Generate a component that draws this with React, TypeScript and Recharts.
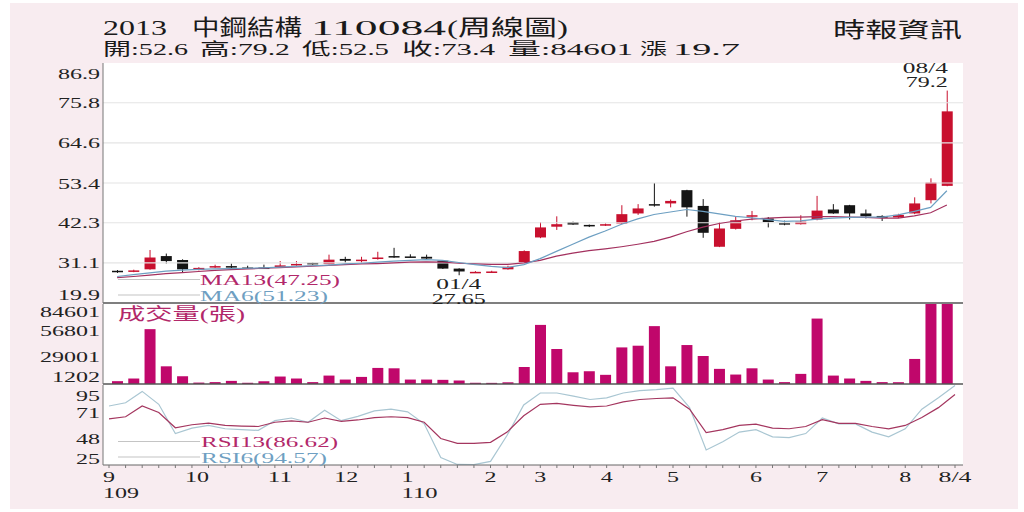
import React from "react";
import {
  Bar,
  BarChart,
  ComposedChart,
  Line,
  LineChart,
  ReferenceDot,
  ReferenceLine,
  XAxis,
  YAxis,
} from "recharts";

// weekly bars, 109/09 .. 110/08/04
const opens = [
  28.9, 28.6, 29.3, 33.0, 31.9, 29.1, 29.8, 30.2, 29.8, 29.8, 29.9, 30.6, 31.1,
  30.8, 32.2, 31.8, 32.2, 33.0, 32.9, 32.8, 31.7, 29.5, 28.5, 28.5, 29.3, 31.3,
  38.2, 41.2, 42.5, 41.7, 41.5, 42.1, 44.9, 47.5, 47.7, 51.4, 47.0, 35.6, 40.6,
  44.2, 43.5, 42.2, 41.9, 43.2, 46.0, 47.2, 44.9, 44.2, 43.8, 44.9, 48.6, 52.6,
];
const closes = [
  28.5, 29.0, 32.6, 31.6, 29.3, 29.7, 30.2, 30.0, 29.7, 29.7, 30.4, 30.8, 30.7,
  32.0, 31.7, 32.0, 32.6, 32.8, 32.8, 32.3, 29.5, 28.7, 28.6, 28.7, 30.0, 34.4,
  41.0, 41.9, 41.8, 41.5, 41.9, 44.7, 46.3, 47.2, 48.4, 46.6, 39.5, 40.7, 43.0,
  44.4, 42.5, 42.0, 42.6, 45.7, 44.9, 44.9, 44.1, 43.7, 44.5, 47.7, 53.5, 73.4,
];
const highs = [
  29.1, 29.2, 34.7, 33.7, 32.1, 29.9, 30.6, 30.9, 30.3, 30.6, 31.6, 31.6, 31.2,
  33.4, 32.8, 32.8, 34.2, 35.3, 33.5, 33.4, 31.8, 29.6, 28.8, 28.9, 30.3, 34.6,
  42.5, 44.1, 42.6, 41.8, 42.1, 47.2, 47.5, 53.4, 48.8, 51.5, 48.9, 42.5, 44.0,
  45.6, 43.9, 42.9, 44.4, 49.8, 47.5, 47.3, 46.0, 44.4, 44.8, 49.4, 54.7, 79.2,
];
const lows = [
  28.3, 28.5, 29.2, 30.9, 28.5, 29.0, 29.7, 29.5, 29.4, 29.4, 29.8, 30.3, 30.6,
  30.7, 31.1, 30.9, 32.0, 32.5, 32.6, 32.2, 29.4, 27.65, 28.3, 28.4, 29.2, 31.1,
  38.0, 40.3, 41.7, 41.1, 41.4, 41.9, 44.5, 46.8, 46.6, 44.0, 38.1, 35.5, 40.4,
  43.0, 41.0, 41.6, 41.8, 43.0, 44.8, 43.2, 43.5, 42.8, 43.6, 44.7, 47.7, 52.5,
];
const ma13 = [
  27.0, 27.3, 27.7, 28.1, 28.4, 28.7, 29.0, 29.2, 29.4, 29.6, 29.8, 30.0, 30.2,
  30.4, 30.6, 30.8, 30.9, 31.1, 31.3, 31.4, 31.3, 31.0, 30.8, 30.7, 30.7, 31.1,
  31.8, 33.0, 33.8, 34.5, 35.0, 35.6, 36.3, 37.1, 38.3, 39.8, 41.1, 42.1, 42.8,
  43.3, 43.6, 43.8, 43.9, 44.0, 44.0, 43.9, 43.8, 43.6, 43.6, 44.2, 45.1, 47.25,
];
const ma6 = [
  27.3, 27.8, 28.3, 28.8, 29.1, 29.3, 29.4, 29.5, 29.6, 29.7, 29.9, 30.1, 30.3,
  30.5, 30.8, 31.0, 31.3, 31.6, 31.8, 32.0, 31.8, 31.2, 30.6, 30.1, 29.8, 30.6,
  32.3, 34.3, 36.3, 38.3, 40.0, 41.9, 43.4, 44.6, 45.3, 46.0, 45.5, 44.8, 44.1,
  43.7, 43.2, 42.7, 42.8, 43.3, 43.6, 43.8, 43.9, 43.9, 44.5, 45.5, 46.6, 51.23,
];
const volumes = [
  3000, 5800, 58000, 18700, 8200, 1500, 2000, 3300, 1300, 2900, 7900, 5800, 2000,
  8900, 4700, 7500, 17000, 16600, 4700, 4700, 4400, 3700, 1300, 1202, 1800, 18000,
  62500, 37000, 12400, 13500, 9700, 38700, 40500, 61200, 18700, 41200, 29600,
  16000, 10000, 16600, 4700, 2000, 10700, 69200, 8900, 5800, 3300, 2000, 1900,
  26500, 92000, 84601,
];
const rsi13 = [
  65.3, 67.2, 76.6, 70.9, 57.6, 60.2, 61.6, 59.6, 59.0, 58.7, 62.4, 63.6, 62.4,
  66.1, 63.2, 64.4, 66.4, 67.2, 66.4, 62.4, 48.2, 43.9, 43.9, 44.8, 53.8, 68.1,
  78.1, 78.9, 77.2, 75.8, 76.6, 80.3, 82.3, 83.2, 83.8, 73.8, 53.3, 55.9, 59.6,
  60.7, 57.3, 56.7, 58.7, 64.7, 61.5, 61.5, 58.7, 56.7, 59.6, 66.6, 75.2, 86.62,
];
const rsi6 = [
  76.6, 79.5, 89.4, 78.1, 52.5, 57.3, 59.6, 56.7, 55.9, 55.3, 63.8, 66.1, 62.4,
  73.0, 63.8, 67.5, 72.4, 73.8, 71.5, 61.0, 31.6, 25.5, 25.3, 28.2, 51.0, 77.5,
  88.0, 88.0, 85.2, 82.3, 83.8, 88.0, 90.0, 90.9, 92.3, 75.2, 38.2, 45.3, 53.8,
  55.9, 49.6, 49.0, 52.5, 66.1, 61.0, 61.0, 53.8, 49.6, 56.7, 73.8, 83.8, 94.57,
];

const priceTicks = [19.9, 31.1, 42.3, 53.4, 64.6, 75.8, 86.9];
const volTicks = [1202, 29001, 56801, 84601];
const rsiTicks = [25, 48, 71, 95];
const monthIdx = [0, 5, 10, 14, 18, 23, 26, 30, 34, 39, 43, 48, 51];
const monthText = ["9", "10", "11", "12", "1", "2", "3", "4", "5", "6", "7", "8", "8/4"];
const yearText: Record<number, string> = { 0: "109", 18: "110" };

const rows = opens.map((o, i) => ({
  i,
  open: o,
  close: closes[i],
  high: highs[i],
  low: lows[i],
  ma13: ma13[i],
  ma6: ma6[i],
  vol: volumes[i],
  rsi13: rsi13[i],
  rsi6: rsi6[i],
}));

const SERIF = "'Liberation Serif', 'Noto Sans CJK TC', serif";
const UP = "#c8102e";
const DOWN = "#141414";
const VOL = "#c0076b";
const MA13C = "#a3305e";
const MA6C = "#6d9fc2";
const RSI13C = "#a4365f";
const RSI6C = "#a9c6d2";
const PINK_TXT = "#b2286a";
const BLUE_TXT = "#6f9fc2";

const W = 1024;
const margin = { top: 0, right: 61, bottom: 0, left: 43 };
const xPad = { left: 6, right: 8 };

// text in the reference is stretched sideways, so widths are forced
const tw = (s: string) =>
  [...s].reduce((a, c) => a + (c >= "0" && c <= "9" ? 12 : c === "." ? 6 : 9), 0);

function makeYTick(shift: Record<string, number>) {
  return function YTick(props: any) {
    const { x, y, payload } = props;
    const s = String(payload.value);
    return (
      <text
        x={x}
        y={y + (shift[s] ?? 0) + 5.5}
        textAnchor="end"
        fontSize={15.5}
        fontFamily={SERIF}
        fill="#222"
        textLength={tw(s)}
        lengthAdjust="spacingAndGlyphs"
      >
        {s}
      </text>
    );
  };
}

function XTick(props: any) {
  const { x, y, payload } = props;
  const k = monthIdx.indexOf(payload.value);
  if (k < 0) return <g />;
  const t = monthText[k];
  const cx = t.length === 2 ? x + 5 : x;
  const yr = yearText[payload.value];
  return (
    <g fontFamily={SERIF} fontSize={15.5} fill="#222">
      <text x={cx} y={y + 13.5} textAnchor="middle" textLength={tw(t)} lengthAdjust="spacingAndGlyphs">
        {t}
      </text>
      {yr ? (
        <text x={cx - tw(t) / 2} y={y + 30} textLength={tw(yr)} lengthAdjust="spacingAndGlyphs">
          {yr}
        </text>
      ) : null}
    </g>
  );
}

function Candle(props: any) {
  const { x, y, width, height, payload } = props;
  const { open, close, high, low } = payload;
  const color = close >= open ? UP : DOWN;
  const k = height / (high - low);
  const yO = y + (high - open) * k;
  const yC = y + (high - close) * k;
  const top = Math.min(yO, yC);
  const h = Math.max(Math.abs(yO - yC), 1.5);
  const cx = x + width / 2;
  return (
    <g>
      <line x1={cx} x2={cx} y1={y} y2={y + height} stroke={color} strokeWidth={1} />
      <rect x={x} y={top} width={width} height={h} fill={color} />
    </g>
  );
}

function twoLines(a: string, b: string, anchor: "end" | "middle", dx: number, dy1: number, dy2: number) {
  return function Lbl(p: any) {
    const vb = p.viewBox;
    const cx = vb.x + vb.width / 2 + dx;
    const cy = vb.y + vb.height / 2;
    return (
      <g fontFamily={SERIF} fontSize={14.5} fill="#222">
        <text x={cx} y={cy + dy1} textAnchor={anchor} textLength={tw(a)} lengthAdjust="spacingAndGlyphs">
          {a}
        </text>
        <text x={cx} y={cy + dy2} textAnchor={anchor} textLength={tw(b)} lengthAdjust="spacingAndGlyphs">
          {b}
        </text>
      </g>
    );
  };
}

function SideAxis() {
  return (
    <YAxis
      yAxisId="r"
      orientation="right"
      width={0}
      tick={false}
      tickLine={false}
      axisLine={{ stroke: "#8a8a8a" }}
    />
  );
}

// stretched header / legend text
function WText(p: { x: number; y: number; w: number; size: number; fill?: string; children: string }) {
  return (
    <text
      x={p.x}
      y={p.y}
      fontSize={p.size}
      fontFamily={SERIF}
      fill={p.fill ?? "#1a1a1a"}
      textLength={p.w}
      lengthAdjust="spacingAndGlyphs"
    >
      {p.children}
    </text>
  );
}

export default function App() {
  return (
    <div style={{ position: "absolute", left: 0, top: 0, width: W, height: 512, background: "#fff" }}>
      <div style={{ position: "absolute", left: 10, top: 3, width: 1008, height: 506, background: "#f8ecf0" }} />
      <div style={{ position: "absolute", left: 103, top: 63, width: 860, height: 402, background: "#fff" }} />

      <div style={{ position: "absolute", left: 0, top: 0 }}>
        <ComposedChart width={W} height={322} data={rows} margin={{ ...margin, top: 63 }}>
          <XAxis dataKey="i" height={19} tick={false} tickLine={false} axisLine={{ stroke: "#555", strokeWidth: 1.5 }} padding={xPad} />
          <YAxis
            domain={[19.9, 86.9]}
            ticks={priceTicks}
            interval={0}
            width={60}
            tickSize={0}
            tickMargin={3}
            tickLine={false}
            axisLine={{ stroke: "#777" }}
            tick={makeYTick({ "86.9": 10, "19.9": -9 })}
            allowDataOverflow
          />
          {SideAxis()}
          {priceTicks.slice(1, -1).map((v) => (
            <ReferenceLine key={v} y={v} stroke="#e4e4e4" strokeWidth={1.2} />
          ))}
          <Bar dataKey={(d: any) => [d.low, d.high]} barSize={11} shape={<Candle />} isAnimationActive={false} />
          <Line dataKey="ma13" stroke={MA13C} strokeWidth={1.2} dot={false} isAnimationActive={false} />
          <Line dataKey="ma6" stroke={MA6C} strokeWidth={1.2} dot={false} isAnimationActive={false} />
          <ReferenceDot x={51} y={79.2} r={0} fill="none" stroke="none" label={{ content: twoLines("08/4", "79.2", "end", 1, -17.5, -3.3) }} />
          <ReferenceDot x={21} y={27.65} r={0} fill="none" stroke="none" label={{ content: twoLines("01/4", "27.65", "middle", 0, 14, 29) }} />
        </ComposedChart>
      </div>

      <div style={{ position: "absolute", left: 0, top: 304 }}>
        <BarChart width={W} height={81} data={rows} margin={margin}>
          <XAxis dataKey="i" height={1} tick={false} tickLine={false} axisLine={{ stroke: "#555", strokeWidth: 1.5 }} padding={xPad} />
          <YAxis
            domain={[0, 84601]}
            ticks={volTicks}
            interval={0}
            width={60}
            tickSize={0}
            tickMargin={3}
            tickLine={false}
            axisLine={{ stroke: "#777" }}
            tick={makeYTick({ "84601": 7, "1202": -6 })}
            allowDataOverflow
          />
          {SideAxis()}
          <Bar dataKey="vol" fill={VOL} barSize={11} isAnimationActive={false} />
        </BarChart>
      </div>

      <div style={{ position: "absolute", left: 0, top: 385 }}>
        <LineChart width={W} height={127} data={rows} margin={margin}>
          <XAxis
            dataKey="i"
            height={47}
            interval={0}
            tickSize={3}
            tickMargin={0}
            tickLine={{ stroke: "#777" }}
            axisLine={{ stroke: "#666" }}
            tick={XTick}
            padding={xPad}
          />
          <YAxis
            domain={[25, 95]}
            ticks={rsiTicks}
            interval={0}
            width={60}
            tickSize={0}
            tickMargin={3}
            tickLine={false}
            axisLine={{ stroke: "#777" }}
            tick={makeYTick({ "95": 10, "25": -7 })}
            allowDataOverflow
          />
          {SideAxis()}
          <Line dataKey="rsi6" stroke={RSI6C} strokeWidth={1.2} dot={false} isAnimationActive={false} />
          <Line dataKey="rsi13" stroke={RSI13C} strokeWidth={1.2} dot={false} isAnimationActive={false} />
        </LineChart>
      </div>

      <svg width={W} height={512} style={{ position: "absolute", left: 0, top: 0, pointerEvents: "none" }}>
        <WText x={103} y={35} w={64} size={22}>2013</WText>
        <WText x={192} y={35} w={110} size={22}>中鋼結構</WText>
        <WText x={311} y={35} w={135} size={22}>110084</WText>
        <WText x={447} y={35} w={121} size={22}>(周線圖)</WText>
        <WText x={833} y={37} w={129} size={21}>時報資訊</WText>

        <WText x={103} y={55} w={85} size={17}>開:52.6</WText>
        <WText x={200} y={55} w={90} size={17}>高:79.2</WText>
        <WText x={302} y={55} w={87} size={17}>低:52.5</WText>
        <WText x={402} y={55} w={93} size={17}>收:73.4</WText>
        <WText x={508} y={55} w={125} size={17}>量:84601</WText>
        <WText x={640} y={55} w={27} size={17}>漲</WText>
        <WText x={673} y={55} w={67} size={17}>19.7</WText>

        <g stroke="#c4c4c4" strokeWidth={1.2}>
          <line x1={118} x2={200} y1={279.5} y2={279.5} />
          <line x1={118} x2={200} y1={295} y2={295} />
          <line x1={118} x2={200} y1={441.5} y2={441.5} />
          <line x1={118} x2={200} y1={457} y2={457} />
        </g>
        <WText x={200} y={285} w={140} size={15.5} fill={PINK_TXT}>MA13(47.25)</WText>
        <WText x={200} y={300.5} w={128} size={15.5} fill={BLUE_TXT}>MA6(51.23)</WText>
        <WText x={201} y={446.7} w={137} size={15.5} fill={PINK_TXT}>RSI13(86.62)</WText>
        <WText x={201} y={463} w={126} size={15.5} fill={BLUE_TXT}>RSI6(94.57)</WText>
        <WText x={118} y={320} w={127} size={17} fill={PINK_TXT}>成交量(張)</WText>
      </svg>
    </div>
  );
}
